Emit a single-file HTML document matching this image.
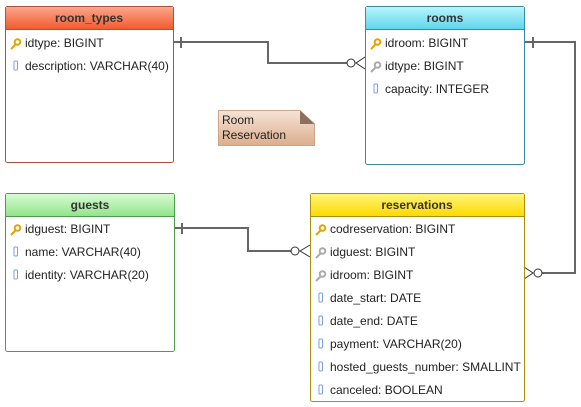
<!DOCTYPE html>
<html><head><meta charset="utf-8"><style>
html,body{margin:0;padding:0;background:#fff;width:581px;height:407px;overflow:hidden}
svg{display:block}
text{font-family:"Liberation Sans",sans-serif;font-size:12px;fill:#222}
.h{font-weight:bold;text-anchor:middle;fill:#333}
</style></head><body>
<svg width="581" height="407" viewBox="0 0 581 407">
<defs>
<linearGradient id="gr" x1="0" y1="0" x2="0" y2="1"><stop offset="0" stop-color="#fba58a"/><stop offset="1" stop-color="#f15c2f"/></linearGradient>
<linearGradient id="gb" x1="0" y1="0" x2="0" y2="1"><stop offset="0" stop-color="#b9f4fb"/><stop offset="1" stop-color="#5fd6ee"/></linearGradient>
<linearGradient id="gg" x1="0" y1="0" x2="0" y2="1"><stop offset="0" stop-color="#d7fbd3"/><stop offset="1" stop-color="#93e48a"/></linearGradient>
<linearGradient id="gy" x1="0" y1="0" x2="0" y2="1"><stop offset="0" stop-color="#fff57a"/><stop offset="1" stop-color="#ffd900"/></linearGradient>
<linearGradient id="gn" x1="0" y1="0" x2="0" y2="1"><stop offset="0" stop-color="#f6e3d6"/><stop offset="1" stop-color="#dcae8e"/></linearGradient>
<g id="key"><circle cx="3.5" cy="-4" r="2.8" fill="none" stroke="#e2a400" stroke-width="2"/><line x1="2" y1="-2" x2="-3" y2="3" stroke="#e2a400" stroke-width="2"/></g>
<g id="fk"><circle cx="3.5" cy="-4" r="2.8" fill="none" stroke="#aaa" stroke-width="2"/><line x1="2" y1="-2" x2="-3" y2="3" stroke="#aaa" stroke-width="2"/></g>
<rect id="col" x="-1" y="-8" width="3.5" height="9" rx="1" fill="#fff" stroke="#7aa0e0" stroke-width="1"/>
</defs>
<!-- connectors -->
<g stroke="#666" stroke-width="2" fill="none">
<polyline points="174,42 268,42 268,63 347,63"/>
<line x1="181" y1="37" x2="181" y2="48"/>
<polyline points="524,42 575,42 575,273 542,273"/>
<line x1="533" y1="37" x2="533" y2="48"/>
<polyline points="174,228 248,228 248,251 291,251"/>
<line x1="182" y1="223" x2="182" y2="234"/>
</g>
<g stroke="#333" stroke-width="1" fill="#fff">
<circle cx="351" cy="63" r="4"/><polyline points="365,57 356,63 365,69" fill="none"/>
<circle cx="538" cy="273" r="4"/><polyline points="524,267 533,273 524,279" fill="none"/>
<circle cx="295" cy="251" r="4"/><polyline points="310,245 300,251 310,257" fill="none"/>
</g>
<!-- note -->
<path d="M218.5,110.5 H300 L314.5,124 V145.5 H218.5 Z" fill="url(#gn)" stroke="#cba58a"/>
<path d="M300,110.5 V124 H314.5 Z" fill="#8a7060"/>
<text x="222" y="124">Room</text><text x="222" y="139">Reservation</text>
<!-- room_types -->
<rect x="5.5" y="6.5" width="168" height="156" rx="2" fill="#fff" stroke="#b0503a"/>
<rect x="6" y="7" width="167" height="22" fill="url(#gr)"/><line x1="5.5" y1="29.5" x2="173.5" y2="29.5" stroke="#b0503a"/>
<text class="h" x="89" y="22">room_types</text>
<use href="#key" x="14" y="46"/><text x="25" y="47">idtype: BIGINT</text>
<use href="#col" x="15" y="69"/><text x="25" y="70">description: VARCHAR(40)</text>
<!-- rooms -->
<rect x="365.5" y="6.5" width="159" height="158" rx="2" fill="#fff" stroke="#3a8aa0"/>
<rect x="366" y="7" width="158" height="22" fill="url(#gb)"/><line x1="365.5" y1="29.5" x2="524.5" y2="29.5" stroke="#3a8aa0"/>
<text class="h" x="445" y="22">rooms</text>
<use href="#key" x="374" y="46"/><text x="385" y="47">idroom: BIGINT</text>
<use href="#fk" x="374" y="69"/><text x="385" y="70">idtype: BIGINT</text>
<use href="#col" x="375" y="92"/><text x="385" y="93">capacity: INTEGER</text>
<!-- guests -->
<rect x="5.5" y="193.5" width="169" height="158" rx="2" fill="#fff" stroke="#4e9a4e"/>
<rect x="6" y="194" width="168" height="22" fill="url(#gg)"/><line x1="5.5" y1="216.5" x2="174.5" y2="216.5" stroke="#4e9a4e"/>
<text class="h" x="90" y="209">guests</text>
<use href="#key" x="14" y="232"/><text x="25" y="233">idguest: BIGINT</text>
<use href="#col" x="15" y="255"/><text x="25" y="256">name: VARCHAR(40)</text>
<use href="#col" x="15" y="278"/><text x="25" y="279">identity: VARCHAR(20)</text>
<!-- reservations -->
<rect x="310.5" y="193.5" width="214" height="208" rx="2" fill="#fff" stroke="#a8900a"/>
<rect x="311" y="194" width="213" height="22" fill="url(#gy)"/><line x1="310.5" y1="216.5" x2="524.5" y2="216.5" stroke="#a8900a"/>
<text class="h" x="417" y="209">reservations</text>
<use href="#key" x="319" y="232"/><text x="330" y="233">codreservation: BIGINT</text>
<use href="#fk" x="319" y="255"/><text x="330" y="256">idguest: BIGINT</text>
<use href="#fk" x="319" y="278"/><text x="330" y="279">idroom: BIGINT</text>
<use href="#col" x="320" y="301"/><text x="330" y="302">date_start: DATE</text>
<use href="#col" x="320" y="324"/><text x="330" y="325">date_end: DATE</text>
<use href="#col" x="320" y="347"/><text x="330" y="348">payment: VARCHAR(20)</text>
<use href="#col" x="320" y="370"/><text x="330" y="371">hosted_guests_number: SMALLINT</text>
<use href="#col" x="320" y="393"/><text x="330" y="394">canceled: BOOLEAN</text>
</svg>
</body></html>
